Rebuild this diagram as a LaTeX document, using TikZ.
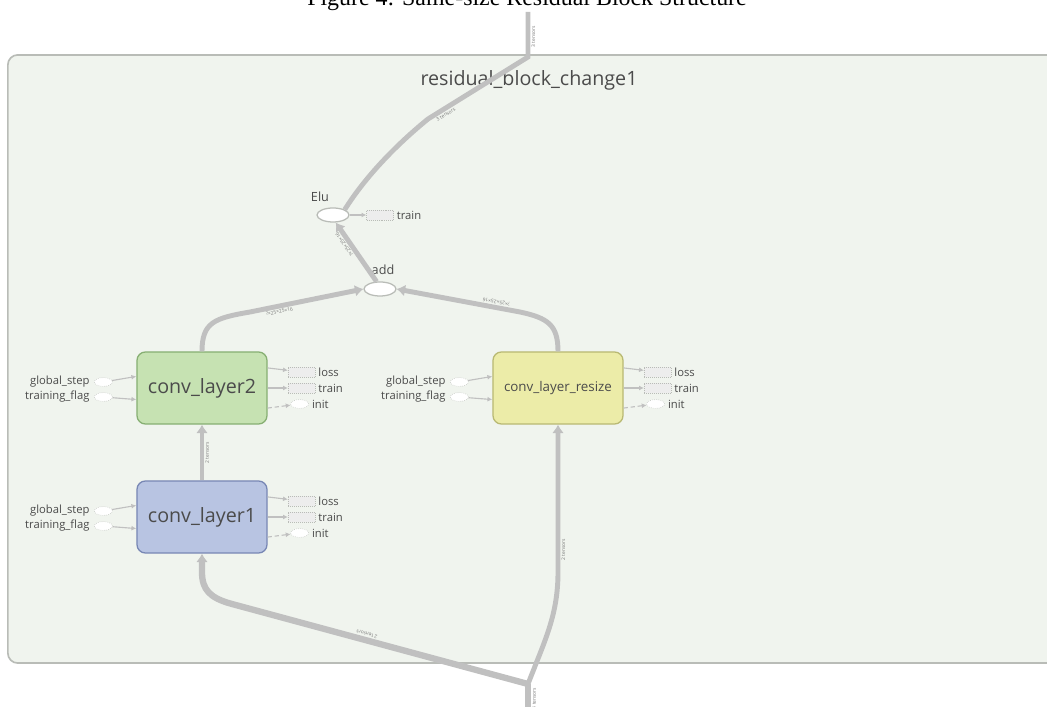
\documentclass[tikz,border=0pt]{standalone}
\usepackage{fontspec}
\setmainfont{Open Sans}
\newfontfamily\capfont{Liberation Serif}
\usetikzlibrary{arrows.meta, positioning, calc, shapes.geometric}
\definecolor{grpfill}{RGB}{240,244,238}
\definecolor{grpline}{RGB}{185,188,183}
\definecolor{edgegray}{RGB}{192,192,192}
\definecolor{txtgray}{RGB}{75,75,75}
\definecolor{lblgray}{RGB}{120,120,120}
\definecolor{c1fill}{RGB}{184,196,226}
\definecolor{c1line}{RGB}{120,135,180}
\definecolor{c2fill}{RGB}{198,226,178}
\definecolor{c2line}{RGB}{135,175,115}
\definecolor{crfill}{RGB}{236,236,168}
\definecolor{crline}{RGB}{185,185,115}

\begin{document}
\begin{tikzpicture}[x=0.025cm, y=-0.025cm,
  every node/.style={text=txtgray},
  blk/.style={draw=grpline, fill=grpfill, line width=1.2pt, rounded corners=7pt,
              minimum width=26.4cm, minimum height=15.2cm},
  box/.style={draw, line width=0.9pt, rounded corners=6pt, minimum width=3.25cm,
              minimum height=1.8cm},
  opnode/.style={ellipse, draw=grpline, fill=white, line width=0.9pt,
              minimum width=0.8cm, minimum height=0.35cm, inner sep=0pt},
  opname/.style={font=\fontsize{9}{10}\selectfont},
  flow/.style={draw=edgegray, line width=3.5pt},
  flowtip/.style={-{Latex[length=6pt,width=8.5pt]}},
  elab/.style={font=\fontsize{3.5}{4}\selectfont, text=lblgray, inner sep=0.8pt},
  aux/.style={draw=edgegray, line width=0.8pt, -{Latex[length=3.5pt,width=3.5pt]}},
  inell/.style={ellipse, draw=grpline, densely dotted, fill=white,
              minimum width=0.45cm, minimum height=0.22cm, inner sep=0pt},
  outrect/.style={draw=grpline, densely dotted, fill=black!7,
              minimum width=0.67cm, minimum height=0.25cm, inner sep=0pt},
  sidetxt/.style={font=\fontsize{8}{9}\selectfont, inner sep=1pt}]

  \useasboundingbox (0,0) rectangle (1047,707);

  \node[font=\capfont\fontsize{17}{19}\selectfont, text=black, anchor=base] (cap)
       at (527,6) {Figure 4: Same-size Residual Block Structure};
  \node[blk] (grp) at (536,359) {};
  \node[font=\fontsize{14}{16}\selectfont] (title) at (529,80) {residual\_block\_change1};

  \node[box, draw=c2line, fill=c2fill, font=\fontsize{14}{16}\selectfont] (cl2) at (202,388) {conv\_layer2};
  \node[box, draw=c1line, fill=c1fill, font=\fontsize{14}{16}\selectfont] (cl1) at (202,517) {conv\_layer1};
  \node[box, draw=crline, fill=crfill, font=\fontsize{9.5}{11}\selectfont] (clr) at (558,388) {conv\_layer\_resize};

  \node[opnode] (add) at (380,289) {};
  \node[opname] (add-l) at (383,270) {add};
  \node[opnode] (elu) at (333,215) {};
  \node[opname] (elu-l) at (320,197) {Elu};
  \node[outrect, right=0.42cm of elu] (elu-tr) {};
  \node[sidetxt, right=1pt of elu-tr] {train};
  \draw[aux] (elu) -- (elu-tr);

  \coordinate (out) at (528,12);
  \coordinate (jt) at (528,57);
  \coordinate (jb) at (528,684);
  \coordinate (src) at (528,720);

  \foreach \b in {cl1,cl2,clr}{
    \node[inell] (\b-gs) at ($(\b.west)+(-33,-6)$) {};
    \node[inell] (\b-tf) at ($(\b.west)+(-33,9)$) {};
    \node[sidetxt, left=2pt of \b-gs] {global\_step};
    \node[sidetxt, left=2pt of \b-tf] {training\_flag};
    \draw[aux] (\b-gs) -- (\b.170);
    \draw[aux] (\b-tf) -- (\b.190);
    \node[outrect] (\b-loss) at ($(\b.east)+(34,-16)$) {};
    \node[outrect] (\b-tr) at ($(\b.east)+(34,0)$) {};
    \node[inell] (\b-init) at ($(\b.east)+(32,16)$) {};
    \node[sidetxt, right=1pt of \b-loss] {loss};
    \node[sidetxt, right=1pt of \b-tr] {train};
    \node[sidetxt, right=1pt of \b-init] {init};
    \draw[aux] (\b.17) -- (\b-loss);
    \draw[aux] (\b.east) -- (\b-tr);
    \draw[aux, densely dashed] (\b.-17) -- (\b-init);
  }

  \draw[flow] (elu.north east) .. controls (362,182) and (390,150) .. (428,119)
     -- node[elab, sloped, below, pos=0.15] {3 tensors} (jt)
     -- node[elab, sloped, below, pos=0.45] {3 tensors} (out);
  \draw[flow, flowtip] (add.115) -- node[elab, sloped, allow upside down, above, pos=0.68] {?×25×25×16} (elu.-70);
  \draw[flow, flowtip] (cl2.north) .. controls (202,322) and (215,318) .. (250,312)
     -- node[elab, sloped, below, pos=0.25] {?×25×25×16} (add.west);
  \draw[flow, flowtip] (clr.north) .. controls (558,325) and (548,318) .. (520,312)
     -- node[elab, sloped, allow upside down, below, pos=0.2] {?×25×25×16} (add.east);
  \draw[flow, flowtip, line width=3pt] (cl1.north) -- node[elab, sloped, below] {2 tensors} (cl2.south);

  \draw[flow, line width=4.5pt] (src) -- node[elab, sloped, below, pos=0.6] {4 tensors} (jb);
  \draw[flow, flowtip, line width=4.5pt] (jb)
     -- node[elab, sloped, allow upside down, below, pos=0.55] {2 tensors} (232,604)
     .. controls (210,598) and (202,590) .. (202,572) -- (cl1.south);
  \draw[flow, flowtip] (jb) .. controls (545,640) and (558,615) .. (558,572)
     -- node[elab, sloped, below, pos=0.15] {2 tensors} (clr.south);
\end{tikzpicture}
\end{document}
